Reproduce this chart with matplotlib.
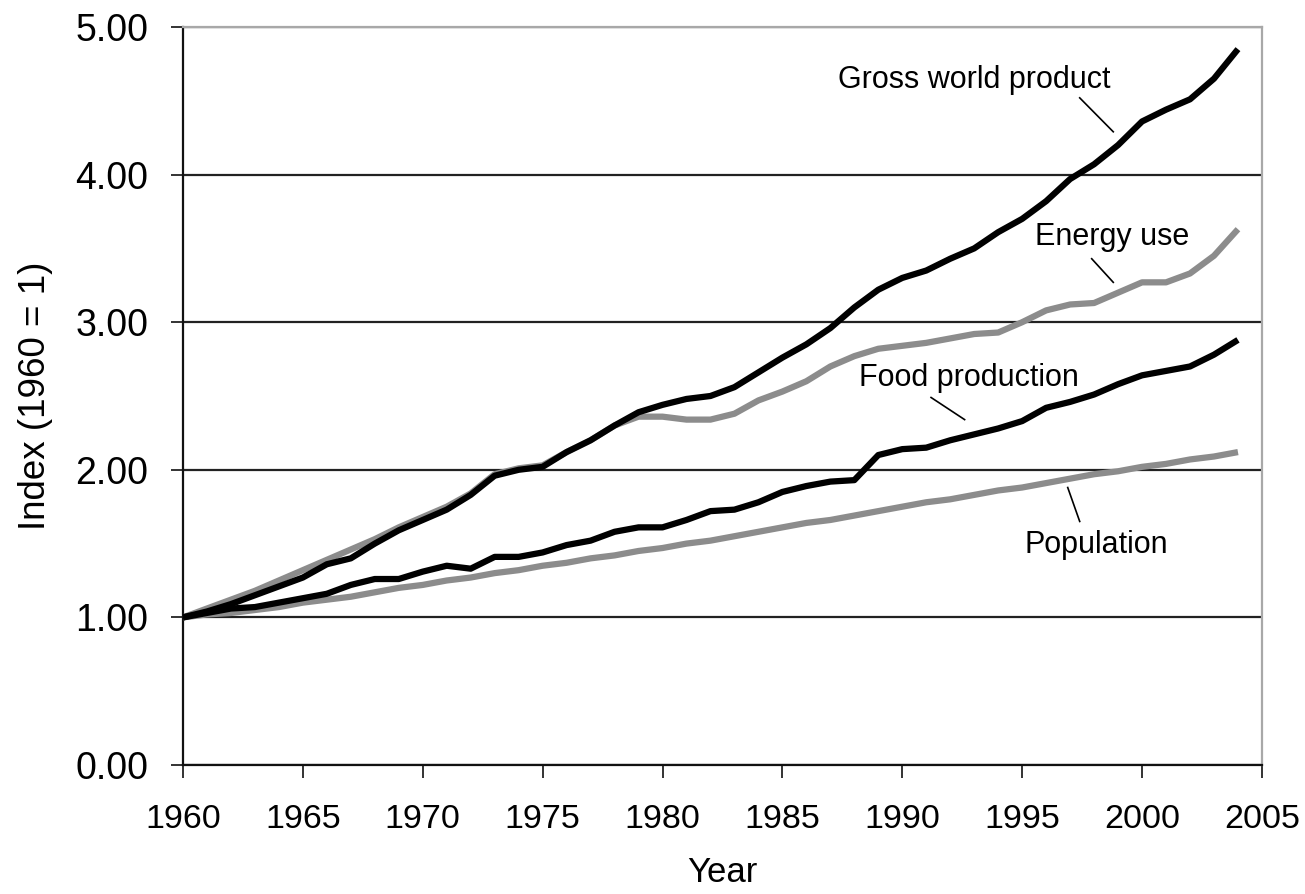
import matplotlib.pyplot as plt

plt.rcParams['font.family'] = ['Liberation Sans', 'DejaVu Sans']

years = list(range(1960, 2005))

gross_world_product = [1.00, 1.04, 1.09, 1.15, 1.21, 1.27, 1.36, 1.40, 1.50, 1.59,
                       1.66, 1.73, 1.83, 1.96, 2.00, 2.02, 2.12, 2.20, 2.30, 2.39,
                       2.44, 2.48, 2.50, 2.56, 2.66, 2.76, 2.85, 2.96, 3.10, 3.22,
                       3.30, 3.35, 3.43, 3.50, 3.61, 3.70, 3.82, 3.97, 4.07, 4.20,
                       4.36, 4.44, 4.51, 4.65, 4.85]

energy_use = [1.00, 1.06, 1.12, 1.18, 1.25, 1.32, 1.39, 1.46, 1.53, 1.61,
              1.68, 1.75, 1.84, 1.97, 2.01, 2.03, 2.12, 2.20, 2.30, 2.36,
              2.36, 2.34, 2.34, 2.38, 2.47, 2.53, 2.60, 2.70, 2.77, 2.82,
              2.84, 2.86, 2.89, 2.92, 2.93, 3.00, 3.08, 3.12, 3.13, 3.20,
              3.27, 3.27, 3.33, 3.45, 3.63]

food_production = [1.00, 1.03, 1.06, 1.07, 1.10, 1.13, 1.16, 1.22, 1.26, 1.26,
                   1.31, 1.35, 1.33, 1.41, 1.41, 1.44, 1.49, 1.52, 1.58, 1.61,
                   1.61, 1.66, 1.72, 1.73, 1.78, 1.85, 1.89, 1.92, 1.93, 2.10,
                   2.14, 2.15, 2.20, 2.24, 2.28, 2.33, 2.42, 2.46, 2.51, 2.58,
                   2.64, 2.67, 2.70, 2.78, 2.88]

population = [1.00, 1.02, 1.03, 1.05, 1.07, 1.10, 1.12, 1.14, 1.17, 1.20,
              1.22, 1.25, 1.27, 1.30, 1.32, 1.35, 1.37, 1.40, 1.42, 1.45,
              1.47, 1.50, 1.52, 1.55, 1.58, 1.61, 1.64, 1.66, 1.69, 1.72,
              1.75, 1.78, 1.80, 1.83, 1.86, 1.88, 1.91, 1.94, 1.97, 1.99,
              2.02, 2.04, 2.07, 2.09, 2.12]

x_ticks = [1960, 1965, 1970, 1975, 1980, 1985, 1990, 1995, 2000, 2005]
y_ticks = [0, 1, 2, 3, 4, 5]

black = '#000000'
grey = '#8c8c8c'

fig = plt.figure(figsize=(13.05, 8.94), dpi=100)
ax = fig.add_axes([0.1402, 0.1443, 0.8268, 0.8255])

style = dict(lw=4.5, solid_capstyle='butt', solid_joinstyle='round')
ax.plot(years, population, color=grey, zorder=3, **style)
ax.plot(years, energy_use, color=grey, zorder=3, **style)
ax.plot(years, food_production, color=black, zorder=4, **style)
ax.plot(years, gross_world_product, color=black, zorder=4, **style)

ax.set_xlim(1960, 2005)
ax.set_ylim(0, 5)
ax.set_xticks(x_ticks)
ax.set_yticks(y_ticks)
ax.set_yticklabels(['%.2f' % v for v in y_ticks])
ax.yaxis.grid(True, color='#222222', lw=1.6)
ax.set_axisbelow(True)

for side in ['top', 'right']:
    ax.spines[side].set_color('#a8a8a8')
    ax.spines[side].set_linewidth(1.6)
for side in ['left', 'bottom']:
    ax.spines[side].set_color('#111111')
    ax.spines[side].set_linewidth(1.6)

ax.tick_params(axis='both', direction='out', length=9, width=1.2, color='#111111')
ax.tick_params(axis='y', pad=16, labelsize=27)
ax.tick_params(axis='x', pad=19, labelsize=24.5)

ax.set_xlabel('Year', fontsize=25, labelpad=15)
ax.set_ylabel('Index (1960 = 1)', fontsize=26.5, labelpad=16)

# labels with short leader lines
ax.text(1993.0, 4.64, 'Gross world product', fontsize=22, ha='center', va='center')
ax.plot([1997.4, 1998.8], [4.52, 4.29], color=black, lw=1.2)
ax.text(1998.75, 3.58, 'Energy use', fontsize=22, ha='center', va='center')
ax.plot([1997.9, 1998.8], [3.43, 3.27], color=black, lw=1.2)
ax.text(1992.8, 2.62, 'Food production', fontsize=22, ha='center', va='center')
ax.plot([1991.2, 1992.6], [2.49, 2.34], color=black, lw=1.2)
ax.text(1998.1, 1.49, 'Population', fontsize=22, ha='center', va='center')
ax.plot([1996.9, 1997.4], [1.88, 1.65], color=black, lw=1.2)

fig.savefig('out.png', dpi=100)
